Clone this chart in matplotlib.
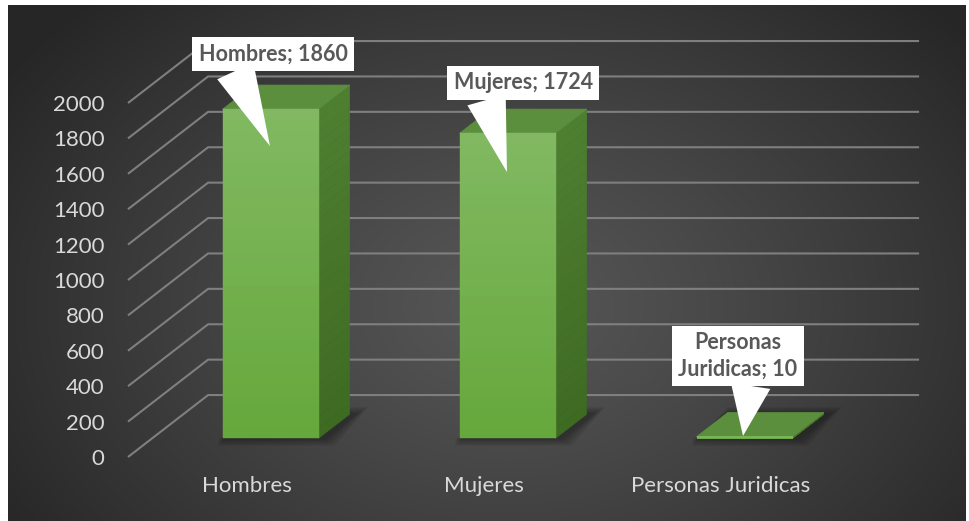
import numpy as np
import matplotlib
matplotlib.use('Agg')
import matplotlib.pyplot as plt
from matplotlib.patches import Polygon

categories = ['Hombres', 'Mujeres', 'Personas Juridicas']
values = [1860, 1724, 10]
labelTexts = ['Hombres; 1860', 'Mujeres; 1724', 'Personas\nJuridicas; 10']
yTicks = list(range(0, 2001, 200))

# 3d look: depth offset of the floor/back wall in data units
DX, DY = 0.338, 350
Z0, Z1 = 0.30, 0.69
BAR_W = 0.405

# callout box centre and pointer tip, offsets from (category, value)
boxOffsets = [(0.112, 417), (0.167, 389), (0.074, 561)]
tipOffsets = [(0.099, -103), (0.099, -114), (0.095, 109)]
pointerRel = [(0.22, 0.1), (0.22, 0.1), (0.62, 0.1)]

plt.rcParams['font.family'] = ['Lato', 'DejaVu Sans']


def proj(x, v, z):
    return x + z * DX, v + z * DY


def mix(c1, c2, t):
    c1, c2 = np.array(c1), np.array(c2)
    return tuple(c1 + (c2 - c1) * t)


def hex2rgb(h):
    h = h.lstrip('#')
    return tuple(int(h[i:i + 2], 16) / 255 for i in (0, 2, 4))


def drawBar(ax, c, v):
    x0, x1 = c - BAR_W / 2, c + BAR_W / 2
    fl = proj(x0, 0, Z0)
    fr = proj(x1, 0, Z0)
    br = proj(x1, 0, Z1)
    bl = proj(x0, 0, Z1)

    # soft shadow on the floor
    for k in range(6):
        g = 0.008 * (6 - k)
        gy = 7 * (6 - k)
        sh = [(fl[0] - 0.02, fl[1] - gy), (fr[0] + g + 0.02, fr[1] - gy),
              (br[0] + g + 0.03, br[1] + gy), (bl[0], bl[1] + gy)]
        ax.add_patch(Polygon(sh, closed=True, fc='black', ec='none', alpha=0.06,
                             zorder=2, clip_on=False))

    # right side face
    nStrip = 30
    for i in range(nStrip):
        a, b = v * i / nStrip, v * (i + 1) / nStrip
        col = mix(hex2rgb('#3e6b22'), hex2rgb('#4f8032'), i / nStrip)
        pts = [(fr[0], fr[1] + a), (br[0], br[1] + a), (br[0], br[1] + b), (fr[0], fr[1] + b)]
        ax.add_patch(Polygon(pts, closed=True, fc=col, ec=col, lw=0.3, zorder=3, clip_on=False))

    # top face
    top = [(fl[0], fl[1] + v), (fr[0], fr[1] + v), (br[0], br[1] + v), (bl[0], bl[1] + v)]
    ax.add_patch(Polygon(top, closed=True, fc='#5b8f3e', ec='#5b8f3e', lw=0.5, zorder=3, clip_on=False))

    # front face with vertical gradient
    for i in range(nStrip):
        a, b = v * i / nStrip, v * (i + 1) / nStrip
        col = mix(hex2rgb('#66a83c'), hex2rgb('#82b962'), i / nStrip)
        pts = [(fl[0], fl[1] + a), (fr[0], fr[1] + a), (fr[0], fr[1] + b), (fl[0], fl[1] + b)]
        ax.add_patch(Polygon(pts, closed=True, fc=col, ec=col, lw=0.3, zorder=4, clip_on=False))


fig = plt.figure(figsize=(9.69, 5.21), dpi=100, facecolor='white')

# background with radial gradient
bg = fig.add_axes([8 / 969, 0, 958 / 969, 516 / 521])
H, W = 516, 958
yy, xx = np.mgrid[0:H, 0:W]
r = np.sqrt(((xx - 500) / 600.0) ** 2 + ((yy - 300) / 430.0) ** 2)
t = np.clip(r, 0, 1) ** 1.2
light, dark = 86 / 255, 38 / 255
grey = light + (dark - light) * t
bg.imshow(np.dstack([grey, grey, grey]), aspect='auto', extent=[0, W, H, 0])
bg.set_axis_off()

ax = fig.add_axes([128 / 969, 64 / 521, 711 / 969, 354 / 521])
ax.set_facecolor('none')
for s in ax.spines.values():
    s.set_visible(False)

# gridlines: diagonal on the side wall, horizontal on the back wall
for v in yTicks:
    ax.plot([-0.5, -0.5 + DX, 2.5 + DX], [v, v + DY, v + DY], color='#7f7f7f', lw=1.5,
            zorder=1, clip_on=False, solid_capstyle='butt')

for c, v in enumerate(values):
    drawBar(ax, c, v)

for c, v in enumerate(values):
    bx, by = c + boxOffsets[c][0], v + boxOffsets[c][1]
    tx, ty = c + tipOffsets[c][0], v + tipOffsets[c][1]
    ax.annotate(labelTexts[c], xy=(tx, ty), xytext=(bx, by), ha='center', va='center',
                fontsize=15.5, fontweight='bold', color='#595959', linespacing=1.3,
                bbox=dict(boxstyle='square,pad=0.3', fc='white', ec='none'),
                arrowprops=dict(arrowstyle='wedge,tail_width=1.85,shrink_factor=0.5',
                                fc='white', ec='none', shrinkA=0, shrinkB=0,
                                relpos=pointerRel[c]),
                zorder=6, annotation_clip=False)

ax.set_xlim(-0.5, 2.5)
ax.set_ylim(0, 2000)
ax.set_yticks(yTicks)
ax.set_yticklabels([str(v) for v in yTicks])
ax.set_xticks(range(len(categories)))
ax.set_xticklabels(categories)
ax.tick_params(axis='y', length=0, pad=17, labelsize=16, labelcolor='#d9d9d9')
ax.tick_params(axis='x', length=0, pad=14, labelsize=16, labelcolor='#d9d9d9')

fig.savefig('out.png', dpi=100, facecolor='white')
